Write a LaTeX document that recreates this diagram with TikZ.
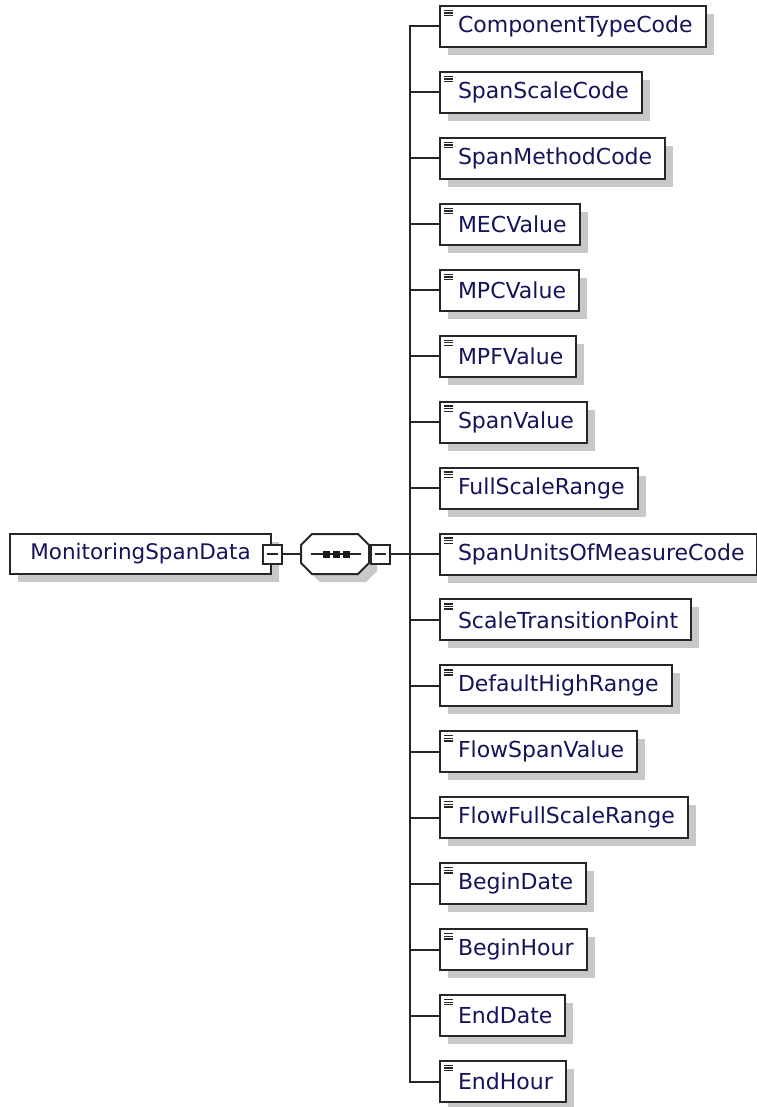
\documentclass[tikz,border=0pt]{standalone}
\usepackage{fontspec}
\setmainfont{DejaVu Sans}
\usetikzlibrary{shadows}
\definecolor{elemtext}{RGB}{20,20,90}
\definecolor{shadowgray}{RGB}{200,200,200}
\newcommand{\octpath}{(-23,-20) -- (23,-20) -- (34,-9) -- (34,9) -- (23,20) -- (-23,20) -- (-34,9) -- (-34,-9) -- cycle}
\tikzset{
  box/.style={draw=black!85, line width=2pt, fill=white, anchor=west,
    minimum height=41pt, inner xsep=13pt, inner ysep=0pt,
    text=elemtext, font=\fontsize{22}{24}\selectfont,
    drop shadow={shadow xshift=8pt, shadow yshift=-8pt, fill=shadowgray, opacity=1}},
  elem/.style={box,
    path picture={
      \foreach \k in {0,1,2}
        \draw[line width=1.3pt, black!85]
          ([xshift=4pt, yshift={-(4.5+2.6*\k)*1pt}]path picture bounding box.north west) -- ++(9pt,0);
    }},
  root/.style={box, minimum width=261pt, minimum height=40pt, inner xsep=0pt,
    font=\fontsize{21.5}{24}\selectfont},
  minus/.style={draw=black!85, line width=2pt, fill=white, minimum size=19pt, inner sep=0pt,
    path picture={
      \draw[line width=2pt, black!85] ([xshift=4pt]path picture bounding box.west)
        -- ([xshift=-4pt]path picture bounding box.east);
    }},
  seqbox/.style={inner sep=0pt, minimum width=68pt, minimum height=40pt}
}

\begin{document}
\begin{tikzpicture}[x=1pt, y=-1pt, line width=2pt]
\useasboundingbox (0,0) rectangle (756,1107);

% root element and sequence
\node[root] (msd) at (9,554) {MonitoringSpanData\hspace{6pt}};
\node[seqbox] (seq) at (335,554) {};
\begin{scope}[shift={(seq.center)}]
  \fill[shadowgray, shift={(8,8)}] \octpath;
  \filldraw[draw=black!85, fill=white] \octpath;
  \draw[black!85] (-24.5,0) -- (26,0);
  \foreach \d in {-8.5,1.5,11.5}
    \fill[black!90] (\d-3.5,-3.5) rectangle ++(7,7);
\end{scope}
\node[minus] (msdminus) at (msd.east) {};
\node[minus, anchor=west] (seqminus) at (seq.east) {};
\coordinate (fork) at (410,554);

% children
\node[elem] (c1) at (439,26.5) {\hspace{5pt}ComponentTypeCode};
\node[elem] (c2) at (439,92.4) {\hspace{5pt}SpanScaleCode};
\node[elem] (c3) at (439,158.4) {\hspace{5pt}SpanMethodCode};
\node[elem] (c4) at (439,224.3) {\hspace{5pt}MECValue};
\node[elem] (c5) at (439,290.3) {\hspace{5pt}MPCValue};
\node[elem] (c6) at (439,356.2) {\hspace{5pt}MPFValue};
\node[elem] (c7) at (439,422.1) {\hspace{5pt}SpanValue};
\node[elem] (c8) at (439,488.1) {\hspace{5pt}FullScaleRange};
\node[elem] (c9) at (439,554.0) {\hspace{5pt}SpanUnitsOfMeasureCode};
\node[elem] (c10) at (439,619.9) {\hspace{5pt}ScaleTransitionPoint};
\node[elem] (c11) at (439,685.9) {\hspace{5pt}DefaultHighRange};
\node[elem] (c12) at (439,751.8) {\hspace{5pt}FlowSpanValue};
\node[elem] (c13) at (439,817.8) {\hspace{5pt}FlowFullScaleRange};
\node[elem] (c14) at (439,883.7) {\hspace{5pt}BeginDate};
\node[elem] (c15) at (439,949.7) {\hspace{5pt}BeginHour};
\node[elem] (c16) at (439,1015.6) {\hspace{5pt}EndDate};
\node[elem] (c17) at (439,1081.5) {\hspace{5pt}EndHour};

\draw[black!85] (msdminus.east) -- (seq.west);
\draw[black!85] (seqminus.east) -- (fork);
\draw[black!85] (fork) |- (c1.west) (fork) |- (c2.west) (fork) |- (c3.west)
  (fork) |- (c4.west) (fork) |- (c5.west) (fork) |- (c6.west) (fork) |- (c7.west)
  (fork) |- (c8.west) (fork) |- (c9.west) (fork) |- (c10.west) (fork) |- (c11.west)
  (fork) |- (c12.west) (fork) |- (c13.west) (fork) |- (c14.west) (fork) |- (c15.west)
  (fork) |- (c16.west) (fork) |- (c17.west);
\end{tikzpicture}
\end{document}
